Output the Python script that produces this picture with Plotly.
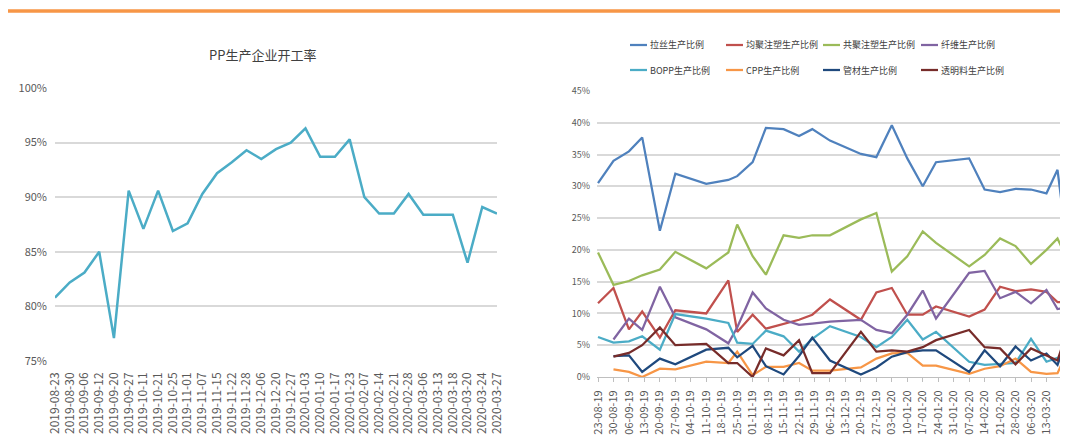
import plotly.graph_objects as go

# ---- left chart: PP operating rate ----
rate_dates = [
    "2019-08-23", "2019-08-30", "2019-09-06", "2019-09-12", "2019-09-20", "2019-09-27",
    "2019-10-11", "2019-10-21", "2019-10-25", "2019-11-01", "2019-11-07", "2019-11-15",
    "2019-11-22", "2019-11-28", "2019-12-06", "2019-12-20", "2019-12-27", "2020-01-03",
    "2020-01-10", "2020-01-17", "2020-01-23", "2020-02-07", "2020-02-14", "2020-02-21",
    "2020-02-28", "2020-03-06", "2020-03-13", "2020-03-18", "2020-03-20", "2020-03-24",
    "2020-03-27",
]
rate_values = [
    80.8, 82.2, 83.1, 85.0, 77.1, 90.6, 87.1, 90.6, 86.9, 87.6, 90.3, 92.2,
    93.2, 94.3, 93.5, 94.4, 95.0, 96.3, 93.7, 93.7, 95.3, 90.0, 88.5, 88.5,
    90.3, 88.4, 88.4, 88.4, 84.0, 89.1, 88.5,
]

# ---- right chart: production share by product (same report dates) ----
share_dates = rate_dates
lasi = [30.5, 34.0, 35.5, 37.7, 23.0, 32.0, 30.4, 31.0, 31.6, 33.8, 39.2, 39.0, 37.9, 39.0, 37.2, 35.1,
        34.6, 39.6, 34.4, 30.0, 33.8, 34.4, 29.5, 29.1, 29.6, 29.5, 28.9, 32.6, 27.0, 31.5, 30.0]
junju = [11.6, 14.0, 7.5, 10.3, 6.2, 10.5, 10.0, 15.2, 7.1, 9.8, 7.6, 8.4, 9.0, 9.8, 12.2, 9.0,
         13.3, 14.0, 9.8, 9.8, 11.1, 9.5, 10.6, 14.2, 13.5, 13.8, 13.4, 11.8, 11.8, 16.0, 14.0]
gongju = [19.6, 14.5, 15.1, 16.0, 16.9, 19.7, 17.1, 19.6, 24.0, 19.0, 16.1, 22.3, 21.9, 22.3, 22.3, 24.8,
          25.8, 16.6, 19.0, 22.9, 21.1, 17.4, 19.2, 21.8, 20.6, 17.8, 20.0, 21.8, 20.3, 24.0, 22.0]
xianwei = [None, 5.9, 9.2, 7.4, 14.2, 9.4, 7.5, 5.3, 7.8, 13.3, 10.8, 9.0, 8.2, 8.4, 8.7, 9.0,
           7.4, 6.9, 9.8, 13.6, 9.2, 16.4, 16.7, 12.4, 13.4, 11.6, 13.7, 10.7, 10.8, 4.5, 6.0]
bopp = [6.3, 5.4, 5.6, 6.4, 4.3, 9.9, 9.2, 8.5, 5.4, 5.2, 7.3, 6.4, 4.0, 6.0, 8.0, 6.3,
        4.7, 6.3, 9.0, 5.9, 7.1, 2.4, 1.9, 2.0, 2.2, 6.0, 2.4, 3.0, 3.2, 1.5, 2.0]
cpp = [None, 1.2, 0.8, 0.0, 1.3, 1.2, 2.4, 2.2, 4.0, 0.3, 1.6, 1.6, 2.2, 1.0, 1.0, 1.5,
       2.9, 3.7, 3.8, 1.8, 1.8, 0.5, 1.3, 1.7, 2.9, 0.8, 0.5, 0.6, 2.1, 1.5, 1.5]
guancai = [None, 3.3, 3.4, 0.8, 2.9, 2.0, 4.3, 4.6, 3.1, 4.9, 1.7, 0.4, 3.3, 6.2, 2.6, 0.4,
           1.5, 3.2, 3.9, 4.2, 4.2, 0.8, 4.2, 1.7, 4.8, 2.6, 3.7, 1.9, 3.9, 5.0, 4.0]
touming = [None, 3.2, 3.8, 5.0, 7.8, 5.0, 5.2, 2.2, 2.2, 0.0, 4.5, 3.4, 5.8, 0.6, 0.6, 7.1,
           4.0, 4.2, 4.0, 4.7, 5.8, 7.4, 4.7, 4.5, 2.0, 4.5, 3.4, 2.6, 4.7, 4.5, 4.5]

series = [
    ("拉丝生产比例", lasi, "#4F81BD"),
    ("均聚注塑生产比例", junju, "#C0504D"),
    ("共聚注塑生产比例", gongju, "#9BBB59"),
    ("纤维生产比例", xianwei, "#8064A2"),
    ("BOPP生产比例", bopp, "#4BACC6"),
    ("CPP生产比例", cpp, "#F79646"),
    ("管材生产比例", guancai, "#1F497D"),
    ("透明料生产比例", touming, "#772C2A"),
]

# the page body keeps its default 8px margin, so the figure is drawn 8px
# smaller and every screen position is shifted back by that offset
OFF = 8
W, H = 1068 - OFF, 443 - OFF
FONT = "Liberation Sans Narrow, Noto Sans CJK SC, sans-serif"
GRID = "#D9D9D9"
TICK = "#595959"

# legend grid (excel style: 2 rows x 4 columns above the right chart)
LEG_COLS = [630, 726, 823, 921]
LEG_ROWS = [45, 70]


def px_x(x):
    return max(0.0, (x - OFF) / W)


def px_y(y):
    return 1 - (y - OFF) / H


fig = go.Figure()

fig.add_trace(go.Scatter(
    x=rate_dates, y=rate_values, mode="lines", showlegend=False,
    line=dict(color="#4BACC6", width=2.5),
    xaxis="x", yaxis="y",
))

shapes = [dict(
    type="line", xref="paper", yref="paper",
    x0=px_x(6), x1=1.0, y0=px_y(11), y1=px_y(11),
    line=dict(color="#F79646", width=3.5),
)]
annotations = [dict(
    text="PP生产企业开工率", xref="paper", yref="paper",
    x=px_x(262), y=px_y(55), xanchor="center", yanchor="middle",
    showarrow=False, font=dict(size=13, color="#404040"),
)]

for i, (name, vals, color) in enumerate(series):
    fig.add_trace(go.Scatter(
        x=share_dates, y=vals, mode="lines", name=name, showlegend=False,
        line=dict(color=color, width=2.25),
        xaxis="x2", yaxis="y2",
    ))
    lx = LEG_COLS[i % 4]
    ly = LEG_ROWS[i // 4]
    shapes.append(dict(
        type="line", xref="paper", yref="paper",
        x0=px_x(lx), x1=px_x(lx + 17), y0=px_y(ly), y1=px_y(ly),
        line=dict(color=color, width=2.25),
    ))
    annotations.append(dict(
        text=name, xref="paper", yref="paper",
        x=px_x(lx + 18), y=px_y(ly), xanchor="left", yanchor="middle",
        showarrow=False, font=dict(size=9, color="#404040"),
    ))

fig.update_layout(
    template="none",
    width=W, height=H,
    margin=dict(l=0, r=0, t=0, b=0, autoexpand=False),
    paper_bgcolor="white", plot_bgcolor="white",
    font=dict(family=FONT, size=10, color=TICK),
    showlegend=False,
    xaxis=dict(
        domain=[px_x(55), px_x(497)], anchor="y", automargin=False,
        type="category", categoryorder="array", categoryarray=rate_dates,
        tickangle=-90, showgrid=False, showline=False, ticks="", zeroline=False,
        tickfont=dict(size=12, color=TICK), ticklabelstandoff=8,
    ),
    yaxis=dict(
        domain=[px_y(361), px_y(88)], anchor="x", automargin=False,
        range=[75, 100], dtick=5, ticksuffix="%",
        gridcolor=GRID, gridwidth=1.5, zeroline=False, showline=False, ticks="",
        tickfont=dict(size=11, color=TICK), ticklabelstandoff=7,
    ),
    xaxis2=dict(
        domain=[px_x(597), 1.0], anchor="y2", automargin=False,
        type="date", range=["2019-08-22 13:00", "2020-03-22 18:00"],
        tick0="2019-08-23", dtick=7 * 86400000, tickformat="%d-%m-%y",
        tickangle=-90, showgrid=False, zeroline=False,
        showline=True, linecolor="#BFBFBF", linewidth=1,
        ticks="outside", ticklen=4, tickcolor="#BFBFBF",
        tickfont=dict(size=11, color=TICK), ticklabelstandoff=4,
    ),
    yaxis2=dict(
        domain=[px_y(377), px_y(91)], anchor="x2", automargin=False,
        range=[0, 45], dtick=5, ticksuffix="%",
        gridcolor=GRID, gridwidth=1.5, zeroline=False, showline=False, ticks="",
        tickfont=dict(size=9, color=TICK), ticklabelstandoff=6,
    ),
    shapes=shapes,
    annotations=annotations,
)

fig.write_html("out.html")
